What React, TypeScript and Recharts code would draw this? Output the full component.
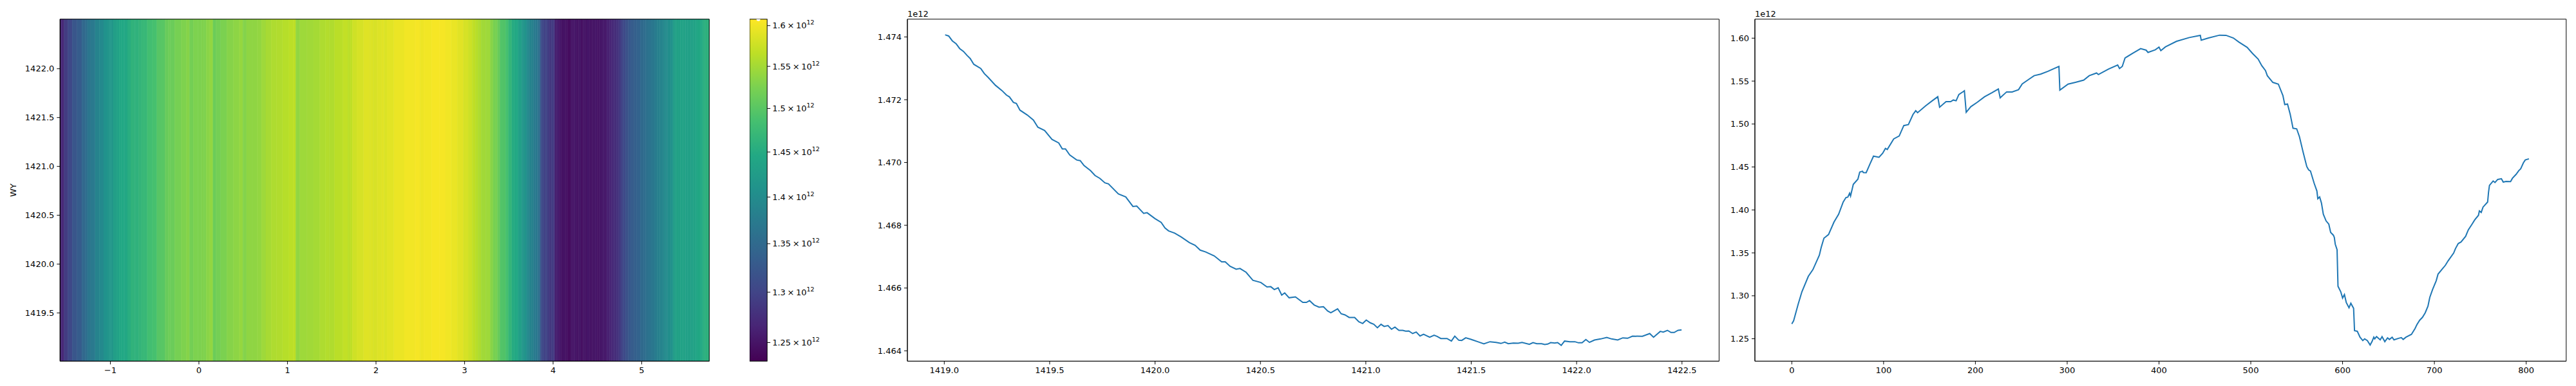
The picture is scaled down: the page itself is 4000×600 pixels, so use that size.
import { ComposedChart, LineChart, Line, XAxis, YAxis, ReferenceArea } from "recharts";

const FONT = "DejaVu Sans, Verdana, sans-serif";
const BLUE = "#1f77b4";
const VIRIDIS = [
  "#440154", "#482475", "#414487", "#355f8d", "#2a788e", "#21918c",
  "#22a884", "#44bf70", "#7ad151", "#bddf26", "#fde725",
];

// profile along the scan (values in units of 1e12), sample index 0..803
const PROFILE_IDX = [
  0, 2, 7, 11, 18, 23, 30, 32, 35, 40, 46, 51, 56, 59, 61, 63, 64, 67, 72, 74,
  77, 78, 81, 85, 89, 95, 99, 102, 104, 111, 117, 122, 127, 132, 135, 137, 146, 153, 159, 161,
  168, 173, 176, 179, 182, 188, 190, 195, 202, 210, 218, 225, 227, 234, 240, 247, 251, 258, 264, 271,
  279, 286, 291, 292, 301, 309, 318, 324, 332, 334, 345, 355, 357, 360, 363, 371, 380, 386, 388, 396,
  400, 402, 407, 419, 433, 445, 446, 454, 466, 473, 481, 487, 496, 502, 508, 512, 516, 518, 524, 530,
  535, 537, 540, 543, 546, 550, 553, 557, 561, 563, 565, 569, 572, 573, 575, 577, 579, 582, 585, 587,
  590, 591, 592, 594, 595, 598, 600, 602, 604, 607, 609, 612, 613, 616, 619, 622, 624, 627, 630, 632,
  634, 635, 637, 641, 643, 646, 649, 651, 654, 656, 661, 664, 666, 669, 675, 679, 681, 684, 687, 690,
  693, 695, 698, 702, 704, 708, 712, 715, 721, 723, 726, 729, 734, 737, 741, 744, 748, 749, 751, 753,
  758, 759, 760, 764, 766, 769, 773, 775, 778, 783, 785, 789, 792, 794, 797, 799, 803,
];
const PROFILE_VAL = [
  1.2673, 1.271, 1.2905, 1.3047, 1.3227, 1.3305, 1.3473, 1.3563, 1.3671, 1.3713, 1.386, 1.395, 1.4092, 1.4144, 1.4149, 1.4195, 1.4162, 1.4298, 1.4358, 1.444,
  1.4451, 1.4435, 1.4433, 1.4531, 1.4626, 1.4613, 1.466, 1.4716, 1.4704, 1.4827, 1.4861, 1.4982, 1.4993, 1.5111, 1.5155, 1.5132, 1.5214, 1.5271, 1.5318, 1.5196,
  1.5261, 1.526, 1.528, 1.5271, 1.5344, 1.5387, 1.5137, 1.5202, 1.5253, 1.5318, 1.5364, 1.5408, 1.5305, 1.5374, 1.5374, 1.54, 1.5467, 1.5519, 1.5563, 1.5581,
  1.5614, 1.5648, 1.5671, 1.5395, 1.5465, 1.5486, 1.5511, 1.5563, 1.5594, 1.5576, 1.564, 1.5687, 1.5646, 1.5671, 1.5769, 1.5821, 1.5878, 1.586, 1.5834, 1.5865,
  1.5896, 1.5855, 1.5898, 1.5963, 1.6007, 1.6033, 1.5976, 1.6002, 1.6035, 1.6033, 1.6002, 1.5955, 1.5893, 1.5821, 1.5756, 1.5679, 1.5622, 1.5563, 1.5485, 1.5465,
  1.5331, 1.5227, 1.5233, 1.5111, 1.4951, 1.4944, 1.4853, 1.4672, 1.4505, 1.4466, 1.4453, 1.4311, 1.4221, 1.4131, 1.4151, 1.4079, 1.395, 1.3873, 1.3834, 1.3738,
  1.3705, 1.368, 1.3602, 1.3537, 1.3111, 1.3047, 1.2974, 1.3015, 1.2923, 1.2861, 1.2913, 1.2855, 1.2595, 1.2587, 1.2518, 1.2479, 1.2499, 1.2479, 1.2427, 1.2466,
  1.2518, 1.2499, 1.2525, 1.2487, 1.2525, 1.2466, 1.251, 1.2492, 1.2518, 1.2487, 1.2505, 1.2513, 1.2492, 1.2518, 1.2551, 1.2621, 1.2665, 1.2716, 1.2749, 1.2802,
  1.2879, 1.2982, 1.3073, 1.3176, 1.3253, 1.3305, 1.3356, 1.3408, 1.3498, 1.355, 1.3609, 1.3627, 1.3692, 1.3769, 1.3834, 1.3885, 1.3937, 1.3989, 1.3971, 1.4033,
  1.4092, 1.4208, 1.4286, 1.4337, 1.4319, 1.4355, 1.4363, 1.4324, 1.4332, 1.433, 1.4368, 1.4414, 1.4458, 1.4479, 1.4549, 1.4582, 1.4595,
];

// value against WY (units of 1e12)
const SCAN_WY = [
  1419.004, 1419.021, 1419.038, 1419.056, 1419.073, 1419.091, 1419.108, 1419.123, 1419.14, 1419.173,
  1419.19, 1419.208, 1419.243, 1419.274, 1419.295, 1419.309, 1419.328, 1419.342, 1419.359, 1419.394,
  1419.423, 1419.444, 1419.476, 1419.511, 1419.543, 1419.56, 1419.575, 1419.595, 1419.628, 1419.645,
  1419.663, 1419.694, 1419.715, 1419.738, 1419.762, 1419.779, 1419.826, 1419.861, 1419.895, 1419.913,
  1419.946, 1419.962, 1420.0, 1420.029, 1420.047, 1420.064, 1420.093, 1420.123, 1420.163, 1420.19,
  1420.214, 1420.24, 1420.281, 1420.316, 1420.333, 1420.356, 1420.385, 1420.403, 1420.432, 1420.464,
  1420.502, 1420.531, 1420.549, 1420.566, 1420.584, 1420.601, 1420.615, 1420.636, 1420.666, 1420.701,
  1420.718, 1420.733, 1420.755, 1420.778, 1420.799, 1420.819, 1420.834, 1420.866, 1420.883, 1420.901,
  1420.921, 1420.947, 1420.967, 1420.985, 1421.002, 1421.021, 1421.038, 1421.055, 1421.072, 1421.087,
  1421.105, 1421.122, 1421.138, 1421.157, 1421.175, 1421.189, 1421.204, 1421.222, 1421.239, 1421.257,
  1421.274, 1421.303, 1421.324, 1421.338, 1421.356, 1421.385, 1421.406, 1421.422, 1421.441, 1421.455,
  1421.474, 1421.499, 1421.531, 1421.56, 1421.589, 1421.618, 1421.641, 1421.659, 1421.676, 1421.7,
  1421.723, 1421.741, 1421.776, 1421.793, 1421.811, 1421.834, 1421.849, 1421.863, 1421.877, 1421.896,
  1421.91, 1421.927, 1421.943, 1421.968, 1421.992, 1422.009, 1422.026, 1422.044, 1422.061, 1422.085,
  1422.114, 1422.143, 1422.166, 1422.195, 1422.219, 1422.242, 1422.265, 1422.312, 1422.347, 1422.365,
  1422.397, 1422.411, 1422.431, 1422.448, 1422.463, 1422.481, 1422.498,
];
const SCAN_VAL = [
  1.474067, 1.47403, 1.473876, 1.473785, 1.47363, 1.473538, 1.473411, 1.473312, 1.473128, 1.472994,
  1.472832, 1.472712, 1.472458, 1.472289, 1.472147, 1.472091, 1.471915, 1.471879, 1.471668, 1.471512,
  1.47135, 1.471124, 1.471018, 1.470736, 1.470623, 1.470433, 1.470433, 1.470242, 1.47008, 1.470059,
  1.469903, 1.469741, 1.469586, 1.469494, 1.469353, 1.469318, 1.469, 1.468901, 1.468598, 1.468612,
  1.468379, 1.4684, 1.46821, 1.46809, 1.467913, 1.467822, 1.467751, 1.467631, 1.467448, 1.467363,
  1.467208, 1.467151, 1.467024, 1.466834, 1.466834, 1.466692, 1.466601, 1.466622, 1.466502, 1.466248,
  1.466177, 1.466036, 1.466043, 1.465951, 1.466008, 1.465775, 1.465846, 1.46569, 1.465719, 1.465542,
  1.465542, 1.465599, 1.46546, 1.465392, 1.465405, 1.465269, 1.465214, 1.465337, 1.46518, 1.465145,
  1.465063, 1.465063, 1.464926, 1.464871, 1.464981, 1.464892, 1.464844, 1.464735, 1.464844, 1.464776,
  1.464803, 1.464687, 1.464755, 1.464652, 1.464652, 1.464625, 1.464632, 1.46455, 1.464598, 1.464474,
  1.464529, 1.464433, 1.464495, 1.464461, 1.464392, 1.464392, 1.46431, 1.464467, 1.464337, 1.464331,
  1.464413, 1.464365, 1.46429, 1.464221, 1.46429, 1.464269, 1.464235, 1.464276, 1.464228, 1.464248,
  1.464242, 1.464269, 1.464207, 1.464262, 1.464228, 1.464228, 1.4642, 1.464214, 1.464262, 1.464248,
  1.464262, 1.464173, 1.46431, 1.46429, 1.46429, 1.464255, 1.464255, 1.464358, 1.464269, 1.464344,
  1.464378, 1.464426, 1.464378, 1.464344, 1.464413, 1.464399, 1.464467, 1.464461, 1.46455, 1.464433,
  1.464618, 1.464598, 1.464652, 1.464584, 1.464584, 1.464652, 1.464666,
];

const HEAT_X_TICKS = [-1, 0, 1, 2, 3, 4, 5];
const HEAT_Y_TICKS = [1419.5, 1420.0, 1420.5, 1421.0, 1421.5, 1422.0];
const CBAR_TICKS = [1.25, 1.3, 1.35, 1.4, 1.45, 1.5, 1.55, 1.6];
const SCAN_X_TICKS = [1419.0, 1419.5, 1420.0, 1420.5, 1421.0, 1421.5, 1422.0, 1422.5];
const SCAN_Y_TICKS = [1.464, 1.466, 1.468, 1.47, 1.472, 1.474];
const PROFILE_X_TICKS = [0, 100, 200, 300, 400, 500, 600, 700, 800];
const PROFILE_Y_TICKS = [1.25, 1.3, 1.35, 1.4, 1.45, 1.5, 1.55, 1.6];

const HEAT_X = [-1.568, 5.763];
const HEAT_Y = [1419.006, 1422.507];
const CBAR = [1.232, 1.608];
const PROFILE_LEN = 804;

const TOP = 29.8;
const BOTTOM = 561.4;
const XAXIS_H = 600 - BOTTOM;

const tickStyle = { fill: "#000", fontSize: 13, fontFamily: FONT };
const axisProps = {
  tick: tickStyle,
  tickLine: { stroke: "#000" },
  axisLine: { stroke: "#000" },
  tickSize: 5,
  tickMargin: 4,
  interval: 0 as const,
  allowDataOverflow: true,
};

function hexRgb(h: string) {
  return [1, 3, 5].map((i) => parseInt(h.slice(i, i + 2), 16));
}

function viridis(t: number) {
  const c = Math.max(0, Math.min(1, t)) * (VIRIDIS.length - 1);
  const i = Math.min(Math.floor(c), VIRIDIS.length - 2);
  const f = c - i;
  const a = hexRgb(VIRIDIS[i]);
  const b = hexRgb(VIRIDIS[i + 1]);
  const m = a.map((v, k) => Math.round(v + (b[k] - v) * f));
  return `rgb(${m[0]},${m[1]},${m[2]})`;
}

function logNorm(v: number) {
  return (Math.log(v) - Math.log(CBAR[0])) / (Math.log(CBAR[1]) - Math.log(CBAR[0]));
}

const heatX = (i: number) => HEAT_X[0] + ((i + 0.5) * (HEAT_X[1] - HEAT_X[0])) / PROFILE_LEN;

const heatCols = PROFILE_IDX.map((idx, k) => {
  const c = heatX(idx);
  const left = k === 0 ? HEAT_X[0] : (heatX(PROFILE_IDX[k - 1]) + c) / 2;
  const right = k === PROFILE_IDX.length - 1 ? HEAT_X[1] : (heatX(PROFILE_IDX[k + 1]) + c) / 2;
  return { x1: left, x2: Math.min(right, HEAT_X[1]), color: viridis(logNorm(PROFILE_VAL[k])) };
});

const scanData = SCAN_WY.map((x, i) => ({ x, v: SCAN_VAL[i] }));
const profileData = PROFILE_IDX.map((x, i) => ({ x, v: PROFILE_VAL[i] }));
// colorbar drawn as one bar spanning the full norm range
const cbarData = [{ x: 0.5, lo: CBAR[0], hi: CBAR[1] }];

const minus = (v: number) => (v < 0 ? "\u2212" + Math.abs(v) : String(v));

function CbarTick(props: any) {
  const { x, y, payload } = props;
  return (
    <text x={x} y={y} dy="0.35em" fontSize={13} fontFamily={FONT} fill="#000" textAnchor="start">
      {String(payload.value) + "\u2009\u00d7\u200910"}
      <tspan dy={-6} fontSize={9.5}>12</tspan>
    </text>
  );
}

// gradient rectangle filling the colorbar plot box
function CbarFill(props: any) {
  const { viewBox } = props;
  if (!viewBox) return null;
  const { x, y, width, height } = viewBox;
  return (
    <g>
      <defs>
        <linearGradient id="viridisBar" x1="0" y1="1" x2="0" y2="0">
          {VIRIDIS.map((c, i) => (
            <stop key={i} offset={i / (VIRIDIS.length - 1)} stopColor={c} />
          ))}
        </linearGradient>
      </defs>
      <rect x={x} y={y} width={width} height={height} fill="url(#viridisBar)" stroke="#000" strokeWidth={1} />
    </g>
  );
}

const offsetText = (left: number) => (
  <div
    style={{
      position: "absolute",
      left,
      top: 15,
      fontFamily: FONT,
      fontSize: 13,
      lineHeight: "13px",
      color: "#000",
    }}
  >
    1e12
  </div>
);

export default function App() {
  return (
    <div style={{ position: "absolute", left: 0, top: 0, width: 4000, height: 600, background: "#fff" }}>
      {/* heatmap */}
      <div style={{ position: "absolute", left: 0, top: 0 }}>
        <ComposedChart width={1111.3} height={600} margin={{ top: TOP, right: 10, bottom: 0, left: 0 }} data={[]}>
          <XAxis
            type="number"
            dataKey="x"
            domain={HEAT_X}
            ticks={HEAT_X_TICKS}
            tickFormatter={minus}
            height={XAXIS_H}
            {...axisProps}
          />
          <YAxis
            type="number"
            domain={HEAT_Y}
            ticks={HEAT_Y_TICKS}
            tickFormatter={(v: number) => v.toFixed(1)}
            width={93.3}
            label={{ value: "WY", angle: -90, position: "insideLeft", offset: 20, style: { textAnchor: "middle", fontFamily: FONT, fontSize: 13, fill: "#000" } }}
            {...axisProps}
          />
          {heatCols.map((c, i) => (
            <ReferenceArea
              key={i}
              x1={c.x1}
              x2={c.x2}
              y1={HEAT_Y[0]}
              y2={HEAT_Y[1]}
              fill={c.color}
              fillOpacity={1}
              stroke={c.color}
              strokeWidth={0.6}
              ifOverflow="visible"
            />
          ))}
          <ReferenceArea x1={HEAT_X[0]} x2={HEAT_X[1]} y1={HEAT_Y[0]} y2={HEAT_Y[1]} fill="none" stroke="#000" strokeWidth={1} ifOverflow="visible" />
        </ComposedChart>
      </div>

      {/* colorbar */}
      <div style={{ position: "absolute", left: 1164.3, top: 0 }}>
        <ComposedChart width={157.2} height={600} margin={{ top: TOP, right: 0, bottom: 0, left: 0 }} data={cbarData}>
          <XAxis type="number" dataKey="x" domain={[0, 1]} height={XAXIS_H} tick={false} tickLine={false} axisLine={false} />
          <YAxis
            orientation="right"
            type="number"
            scale="log"
            domain={CBAR}
            ticks={CBAR_TICKS}
            width={130}
            tick={<CbarTick />}
            tickLine={{ stroke: "#000" }}
            axisLine={false}
            tickSize={5}
            tickMargin={3}
            interval={0}
            allowDataOverflow
          />
          <Line dataKey="hi" stroke="none" dot={false} isAnimationActive={false} />
          <ReferenceArea y1={CBAR[0]} y2={CBAR[1]} ifOverflow="visible" shape={(p: any) => <CbarFill viewBox={{ x: p.x, y: p.y, width: p.width, height: p.height }} />} />
        </ComposedChart>
      </div>

      {/* value vs WY */}
      <div style={{ position: "absolute", left: 1319.2, top: 0 }}>
        <LineChart width={1360.4} height={600} margin={{ top: TOP, right: 10, bottom: 0, left: 0 }} data={scanData}>
          <XAxis
            type="number"
            dataKey="x"
            domain={[1418.825, 1422.676]}
            ticks={SCAN_X_TICKS}
            tickFormatter={(v: number) => v.toFixed(1)}
            height={XAXIS_H}
            {...axisProps}
          />
          <YAxis
            type="number"
            domain={[1.46367, 1.474566]}
            ticks={SCAN_Y_TICKS}
            tickFormatter={(v: number) => v.toFixed(3)}
            width={90}
            {...axisProps}
          />
          <Line type="linear" dataKey="v" stroke={BLUE} strokeWidth={2} dot={false} isAnimationActive={false} />
          <ReferenceArea x1={1418.825} x2={1422.676} y1={1.46367} y2={1.474566} fill="none" stroke="#000" strokeWidth={1} ifOverflow="visible" />
        </LineChart>
      </div>
      {offsetText(1409)}

      {/* profile */}
      <div style={{ position: "absolute", left: 2635.4, top: 0 }}>
        <LineChart width={1353.8} height={600} margin={{ top: TOP, right: 4, bottom: 0, left: 0 }} data={profileData}>
          <XAxis
            type="number"
            dataKey="x"
            domain={[-40.2, 843.6]}
            ticks={PROFILE_X_TICKS}
            height={XAXIS_H}
            {...axisProps}
          />
          <YAxis
            type="number"
            domain={[1.2239, 1.6221]}
            ticks={PROFILE_Y_TICKS}
            tickFormatter={(v: number) => v.toFixed(2)}
            width={90}
            {...axisProps}
          />
          <Line type="linear" dataKey="v" stroke={BLUE} strokeWidth={2} dot={false} isAnimationActive={false} />
          <ReferenceArea x1={-40.2} x2={843.6} y1={1.2239} y2={1.6221} fill="none" stroke="#000" strokeWidth={1} ifOverflow="visible" />
        </LineChart>
      </div>
      {offsetText(2725)}
    </div>
  );
}
